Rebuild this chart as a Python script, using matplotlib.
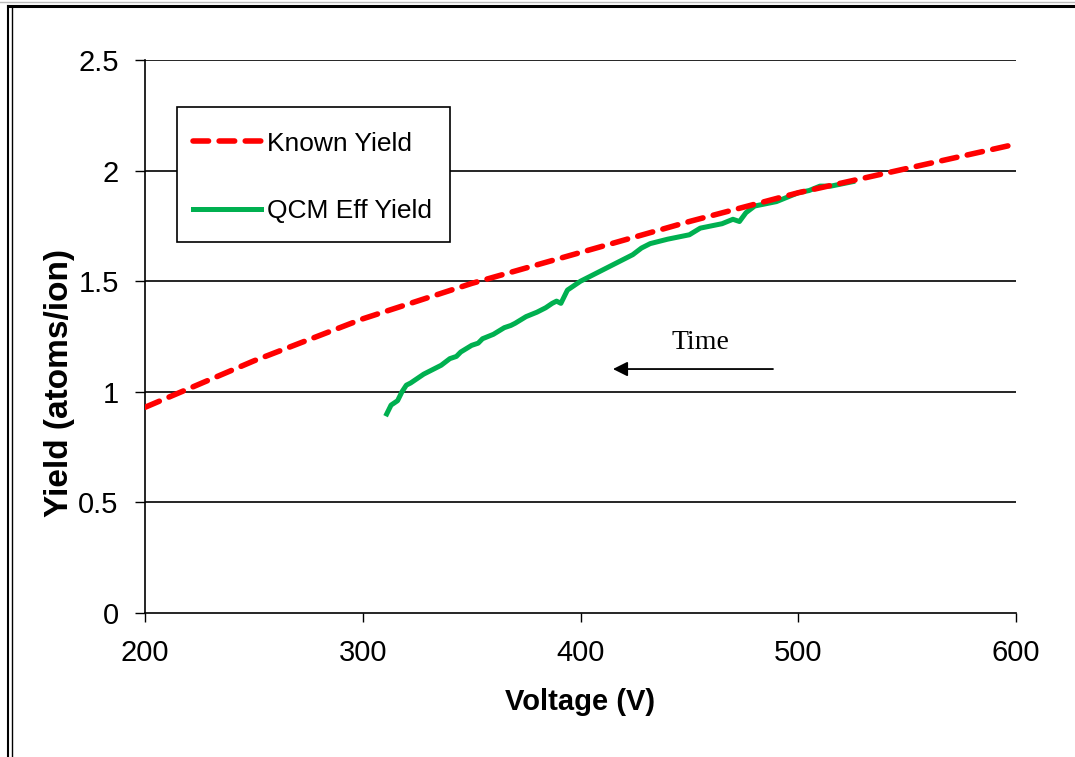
import matplotlib

matplotlib.use("Agg")
import matplotlib.pyplot as plt
from matplotlib.lines import Line2D
from matplotlib.patches import Rectangle

# --- Data
known_voltage = [200, 250, 300, 350, 400, 450, 500, 550, 600]
known_yield = [0.93, 1.14, 1.33, 1.49, 1.63, 1.77, 1.90, 2.01, 2.12]

qcm_voltage = [311, 313, 316, 318, 320, 322, 325, 328, 332, 336, 340, 343, 345, 350, 353, 355,
               360, 365, 368, 370, 375, 380, 384, 387, 389, 391, 394, 397, 400, 404, 408,
               412, 416, 420, 424, 428, 432, 436, 440, 445, 450, 455, 460, 465, 470,
               473, 476, 480, 485, 490, 495, 500, 505, 510, 515, 520, 525]
qcm_yield = [0.90, 0.94, 0.96, 1.00, 1.03, 1.04, 1.06, 1.08, 1.10, 1.12, 1.15, 1.16, 1.18,
             1.21, 1.22, 1.24, 1.26, 1.29, 1.30, 1.31, 1.34, 1.36, 1.38, 1.40, 1.41, 1.40, 1.46,
             1.48, 1.50, 1.52, 1.54, 1.56, 1.58, 1.60, 1.62, 1.65, 1.67, 1.68, 1.69,
             1.70, 1.71, 1.74, 1.75, 1.76, 1.78, 1.77, 1.81, 1.84, 1.85, 1.86, 1.88,
             1.90, 1.91, 1.93, 1.93, 1.94, 1.95]

x_ticks = [200, 300, 400, 500, 600]
y_ticks = [0, 0.5, 1, 1.5, 2, 2.5]
y_tick_labels = ["0", "0.5", "1", "1.5", "2", "2.5"]

plt.rcParams["font.family"] = ["Liberation Sans", "DejaVu Sans"]

fig = plt.figure(figsize=(10.75, 7.57), dpi=100)
ax = fig.add_axes([0.1349, 0.1902, 0.8102, 0.7305])

# gridlines (horizontal only)
for yv in y_ticks[1:]:
    ax.axhline(yv, color="black", lw=1.2, zorder=1)

ax.plot(known_voltage, known_yield, color="#FF0000", lw=4.0, dashes=(2.8, 1.9),
        dash_capstyle="round", label="Known Yield", zorder=3)
ax.plot(qcm_voltage, qcm_yield, color="#00B050", lw=3.6, label="QCM Eff Yield", zorder=2)

ax.set_xlim(200, 600)
ax.set_ylim(0, 2.5)
ax.set_xticks(x_ticks)
ax.set_yticks(y_ticks)
ax.set_yticklabels(y_tick_labels)
ax.tick_params(axis="y", direction="out", length=7, width=1, pad=12, labelsize=21)
ax.tick_params(axis="x", direction="out", length=6.5, width=1, pad=12, labelsize=21)

for side in ("top", "right"):
    ax.spines[side].set_visible(False)
for side in ("left", "bottom"):
    ax.spines[side].set_linewidth(1.2)

ax.set_xlabel("Voltage (V)", fontsize=21, fontweight="bold", labelpad=15)
ax.set_ylabel("Yield (atoms/ion)", fontsize=24, fontweight="bold")
ax.yaxis.set_label_coords(-0.0804, 0.416)

# legend: entries without frame, box drawn separately to match the reference padding
leg = ax.legend(loc="upper left", bbox_to_anchor=(0.0367, 0.899), fontsize=19,
                frameon=False, handlelength=2.6, handletextpad=0.2,
                labelspacing=1.65, borderpad=0.6, borderaxespad=0)
ax.add_patch(Rectangle((0.0367, 0.671), 0.3133, 0.244, transform=ax.transAxes,
                       facecolor="white", edgecolor="black", lw=1.2, zorder=4))
leg.set_zorder(5)

# "Time" annotation with arrow
ax.annotate("", xy=(414.9, 1.103), xytext=(488.4, 1.103),
            arrowprops=dict(arrowstyle="-|>", color="black", lw=1.3,
                            mutation_scale=22, shrinkA=0, shrinkB=0))
ax.text(454.9, 1.225, "Time", fontsize=20, ha="center", va="center",
        family=["Liberation Serif", "DejaVu Serif"])

# outer frame of the screenshot
fig.add_artist(Line2D([0.0075, 0.0075], [0, 0.992], transform=fig.transFigure, color="black", lw=1.5))
fig.add_artist(Line2D([0.0112, 0.0112], [0, 0.992], transform=fig.transFigure, color="black", lw=1.0))
fig.add_artist(Line2D([0.0075, 1.0], [0.9915, 0.9915], transform=fig.transFigure, color="black", lw=2.2))
fig.add_artist(Line2D([0.0, 1.0], [0.9975, 0.9975], transform=fig.transFigure, color="#bbbbbb", lw=1.0))

fig.savefig("out.png", dpi=100)
